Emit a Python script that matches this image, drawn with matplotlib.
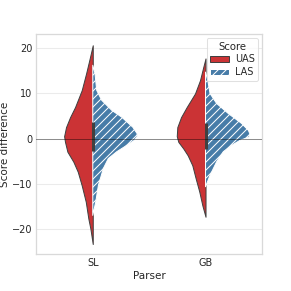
import matplotlib
matplotlib.use("Agg")
import matplotlib.pyplot as plt
from matplotlib.patches import Patch
import numpy as np

parsers = ["SL", "GB"]
scores = ["UAS", "LAS"]

# violin outlines: score level -> half width (axis units)
sl_uas_y = [20.5, 17.3, 14.3, 10.6, 6.9, 4.7, 2.5, 0.5, -0.75, -2.9, -5.1,
            -7.3, -10.3, -13.9, -17.6, -19.8, -23.2]
sl_uas_w = [0.0, 0.030, 0.059, 0.098, 0.157, 0.201, 0.237, 0.254, 0.246,
            0.225, 0.172, 0.133, 0.098, 0.062, 0.039, 0.021, 0.0]
sl_las_y = [16.1, 14.3, 10.6, 8.4, 6.2, 4.7, 2.5, 1.1, 0.5, -0.4, -1.5,
            -2.9, -4.4, -6.6, -10.3, -13.9, -16.9]
sl_las_w = [0.0, 0.020, 0.035, 0.080, 0.169, 0.257, 0.355, 0.393, 0.395,
            0.369, 0.302, 0.213, 0.138, 0.094, 0.050, 0.027, 0.0]
gb_uas_y = [17.6, 15.7, 12.8, 9.9, 6.9, 4.7, 2.5, 0.5, -0.75, -2.2, -3.7,
            -5.9, -8.8, -11.7, -14.7, -17.2]
gb_uas_w = [0.0, 0.020, 0.049, 0.093, 0.167, 0.217, 0.250, 0.255, 0.241,
            0.197, 0.158, 0.117, 0.087, 0.055, 0.028, 0.0]
gb_las_y = [14.6, 12.8, 9.9, 7.7, 5.5, 3.3, 1.8, 1.0, 0.3, -0.4, -1.5,
            -2.9, -5.1, -8.1, -10.6]
gb_las_w = [0.0, 0.020, 0.040, 0.099, 0.202, 0.321, 0.380, 0.394, 0.385,
            0.306, 0.232, 0.158, 0.099, 0.040, 0.0]

# interquartile ranges (inner box)
iqr_low = [-2.8, -2.2]
iqr_high = [3.6, 3.3]

red = "#cb3335"
blue = "#477ca8"
text_color = "0.15"

plt.rcParams["font.family"] = "DejaVu Sans"
plt.rcParams["hatch.linewidth"] = 1.0

fig, ax = plt.subplots(figsize=(4, 4), dpi=72.75)
fig.subplots_adjust(left=0.125, right=0.9, top=0.882, bottom=0.127)

profiles = [
    (sl_uas_y, sl_uas_w, sl_las_y, sl_las_w),
    (gb_uas_y, gb_uas_w, gb_las_y, gb_las_w),
]

for i, (uy, uw, ly, lw) in enumerate(profiles):
    uy = np.asarray(uy)
    ly = np.asarray(ly)
    ax.fill_betweenx(uy, i - np.asarray(uw), i, facecolor=red,
                     edgecolor="0.25", linewidth=1, zorder=2)
    ax.fill_betweenx(ly, i, i + np.asarray(lw), facecolor=blue,
                     edgecolor="white", linewidth=1, hatch="///", zorder=2)
    ax.plot([i, i], [iqr_low[i], iqr_high[i]], color="0.25", lw=3,
            solid_capstyle="butt", zorder=3)

ax.axhline(0, color="black", alpha=0.4, lw=1, zorder=4)

ax.set_xlim(-0.5, 1.5)
ax.set_ylim(-25.4, 22.9)
ax.set_xticks(range(len(parsers)))
ax.set_xticklabels(parsers)
ax.set_yticks([-20, -10, 0, 10, 20])
ax.set_xlabel("Parser", fontsize=10.3, color=text_color, labelpad=3)
ax.set_ylabel("Score difference", fontsize=10.3, color=text_color,
              labelpad=2)
ax.tick_params(length=0, labelsize=9.7, colors=text_color, pad=4)

ax.yaxis.grid(True, color="0.92", lw=1)
ax.set_axisbelow(True)
for spine in ax.spines.values():
    spine.set_color("0.85")
    spine.set_linewidth(1.25)

handles = [
    Patch(facecolor=red, edgecolor="0.25", linewidth=1),
    Patch(facecolor=blue, edgecolor="white", hatch="///", linewidth=1),
]
leg = ax.legend(handles, scores, title="Score", loc="upper right",
                fontsize=9.5, title_fontsize=10, frameon=True,
                handlelength=2.0, borderpad=0.35, labelspacing=0.3,
                handletextpad=0.6, borderaxespad=0.4)
leg.get_frame().set_edgecolor("0.85")
for t in leg.get_texts():
    t.set_color(text_color)
leg.get_title().set_color(text_color)

fig.savefig("out.png", dpi=72.75)
